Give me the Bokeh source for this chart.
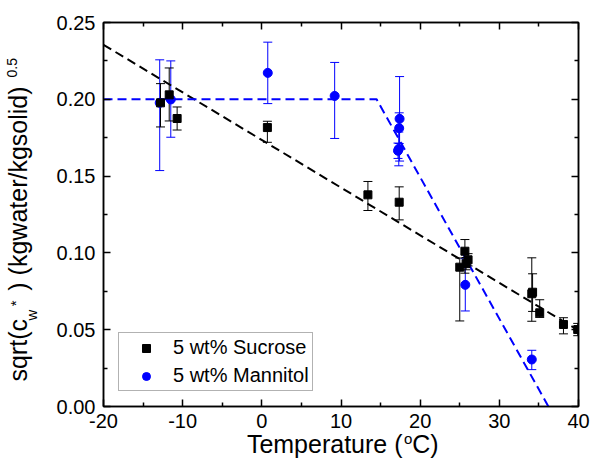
import numpy as np
from bokeh.plotting import figure
from bokeh.models import (Range1d, FixedTicker, PrintfTickFormatter, LinearAxis, Whisker,
                          TeeHead, ColumnDataSource, Legend, LegendItem, CustomJSTickFormatter)
from bokeh.embed import file_html
from bokeh.resources import INLINE

# ---------------- data ----------------
sucrose_T = [-12.8, -11.7, -10.7, 0.7, 13.4, 17.35, 25.0, 25.65, 25.8, 26.05, 34.1, 34.2, 35.1, 38.1, 39.9]
sucrose_y = [0.1977, 0.2029, 0.1875, 0.1816, 0.1378, 0.1330, 0.0907, 0.1011, 0.0930, 0.0955,
             0.0734, 0.0744, 0.0610, 0.0534, 0.0501]
sucrose_err_hi = [0.0125, 0.0175, 0.0075, 0.0041, 0.0087, 0.0100, 0.0060, 0.0076, 0.0040, 0.0040,
                  0.0234, 0.0120, 0.0085, 0.0044, 0.0040]
sucrose_err_lo = [0.0157, 0.0170, 0.0075, 0.0096, 0.0102, 0.0115, 0.0350, 0.0143, 0.0040, 0.0040,
                  0.0179, 0.0125, 0.0030, 0.0061, 0.0040]

mannitol_T = [-12.9, -11.5, 0.75, 9.2, 17.4, 17.35, 17.3, 17.2, 25.7, 34.1]
mannitol_y = [0.1977, 0.1999, 0.2172, 0.2022, 0.1873, 0.1812, 0.1677, 0.1665, 0.0792, 0.0306]
mannitol_err_hi = [0.0280, 0.0251, 0.0200, 0.0218, 0.0275, 0.0100, 0.0110, 0.0050, 0.0170, 0.0060]
mannitol_err_lo = [0.0441, 0.0246, 0.0200, 0.0277, 0.0275, 0.0100, 0.0110, 0.0050, 0.0170, 0.0066]

sucrose_fit_T = [-20, 40]
sucrose_fit_y = [0.2355, 0.0495]
mannitol_fit_T = [-20, 14.5, 36.2]
mannitol_fit_y = [0.2, 0.2, 0.0]

x_ticks = [-20, -10, 0, 10, 20, 30, 40]
x_minor = [-15, -5, 5, 15, 25, 35]
y_ticks = [0.0, 0.05, 0.10, 0.15, 0.20, 0.25]
y_minor = [0.025, 0.075, 0.125, 0.175, 0.225]

series_labels = ["5 wt% Sucrose", "5 wt% Mannitol"]
x_title_parts = ["Temperature (", "o", "C)"]
y_title_parts = ["sqrt(c", "w", "*", ") (kgwater/kgsolid)", "0.5"]

BLUE = "#0000FF"
BLACK = "#000000"
FONT = "Liberation Sans"

p = figure(frame_width=475, frame_height=384,
           x_range=Range1d(-20, 40), y_range=Range1d(0, 0.25),
           output_backend="svg", toolbar_location=None,
           min_border_left=103, min_border_right=13, min_border_top=22, min_border_bottom=54)
p.xgrid.visible = False
p.ygrid.visible = False
p.outline_line_color = BLACK
p.outline_line_width = 1.5
p.background_fill_color = "white"
p.border_fill_color = "white"


def style_axis(ax, ticks, minor, fmt, show_labels, standoff):
    ax.ticker = FixedTicker(ticks=ticks, minor_ticks=minor)
    ax.formatter = PrintfTickFormatter(format=fmt)
    ax.axis_line_color = BLACK
    ax.axis_line_width = 1.5
    ax.major_tick_line_color = BLACK
    ax.major_tick_line_width = 1.5
    ax.minor_tick_line_color = BLACK
    ax.minor_tick_line_width = 1.5
    ax.major_tick_in = 7
    ax.major_tick_out = 0
    ax.minor_tick_in = 4
    ax.minor_tick_out = 0
    ax.major_label_text_font = FONT
    ax.major_label_standoff = standoff
    if show_labels:
        ax.major_label_text_font_size = "20px"
        ax.major_label_text_color = BLACK
    else:
        ax.major_label_text_font_size = "1px"
        ax.major_label_text_color = None


style_axis(p.xaxis[0], x_ticks, x_minor, "%d", True, 7)
style_axis(p.yaxis[0], y_ticks, y_minor, "%.2f", True, 8)

top_axis = LinearAxis()
style_axis(top_axis, x_ticks, x_minor, "%d", False, 0)
p.add_layout(top_axis, "above")
right_axis = LinearAxis()
style_axis(right_axis, y_ticks, y_minor, "%.2f", False, 0)
p.add_layout(right_axis, "right")

# fit lines
p.line(sucrose_fit_T, sucrose_fit_y, line_color=BLACK, line_width=2, line_dash="9 5")
p.line(mannitol_fit_T, mannitol_fit_y, line_color=BLUE, line_width=2, line_dash="9 5")


def add_errors(T, y, lo, hi, color):
    ya = np.array(y)
    src = ColumnDataSource(dict(T=T, upper=ya + np.array(hi), lower=ya - np.array(lo)))
    w = Whisker(base="T", upper="upper", lower="lower", source=src, dimension="height",
                line_color=color, line_width=1,
                upper_head=TeeHead(size=9, line_color=color, line_width=1),
                lower_head=TeeHead(size=9, line_color=color, line_width=1))
    p.add_layout(w)


add_errors(mannitol_T, mannitol_y, mannitol_err_lo, mannitol_err_hi, BLUE)
add_errors(sucrose_T, sucrose_y, sucrose_err_lo, sucrose_err_hi, BLACK)

r_man = p.scatter(mannitol_T, mannitol_y, marker="circle", size=9, fill_color=BLUE, line_color=BLUE)
r_suc = p.scatter(sucrose_T, sucrose_y, marker="square", size=8, fill_color=BLACK, line_color=BLACK)

legend = Legend(items=[LegendItem(label=series_labels[0], renderers=[r_suc]),
                       LegendItem(label=series_labels[1], renderers=[r_man])],
                location=(15, 15), padding=3, spacing=5, margin=0,
                glyph_width=48, glyph_height=20, label_height=20, label_standoff=3,
                label_text_font=FONT, label_text_font_size="20px", label_text_color=BLACK,
                border_line_color="#666666", border_line_width=1,
                background_fill_color="white", background_fill_alpha=1.0)
p.add_layout(legend)


# axis titles (with sub/superscripts): tick-less extra axes in the side panels whose
# tick labels are the title pieces; standoffs set their offset from the frame
def title_axis(side, positions, texts, size, standoff, orientation="horizontal"):
    overrides = {}
    for pos, t in zip(positions, texts):
        overrides[pos] = t
        overrides[str(pos)] = t
    ax = LinearAxis(ticker=FixedTicker(ticks=positions, minor_ticks=[]),
                    formatter=CustomJSTickFormatter(args=dict(labels=texts),
                                                    code="return labels[index]"),
                    major_label_overrides=overrides)
    ax.axis_line_color = None
    ax.major_tick_line_color = None
    ax.minor_tick_line_color = None
    ax.major_tick_in = 0
    ax.major_tick_out = 0
    ax.minor_tick_in = 0
    ax.minor_tick_out = 0
    ax.major_label_standoff = standoff
    ax.major_label_text_font = FONT
    ax.major_label_text_font_size = f"{size}px"
    ax.major_label_text_color = BLACK
    ax.major_label_orientation = orientation
    p.add_layout(ax, side)


# x title (below the tick labels)
title_axis("below", [18.47], [x_title_parts[1]], 15, -1)
title_axis("below", [7.94, 20.66], [x_title_parts[0], x_title_parts[2]], 25, -20)
# y title (left of the tick labels), read bottom to top
title_axis("left", [0.0595], [y_title_parts[1]], 15, 13, "parallel")
title_axis("left", [0.0672], [y_title_parts[2]], 15, -4, "parallel")
title_axis("left", [0.0366, 0.1419], [y_title_parts[0], y_title_parts[3]], 25, -28, "parallel")
title_axis("left", [0.2205], [y_title_parts[4]], 14, -16, "parallel")

open("out.html", "w").write(file_html(p, INLINE))
